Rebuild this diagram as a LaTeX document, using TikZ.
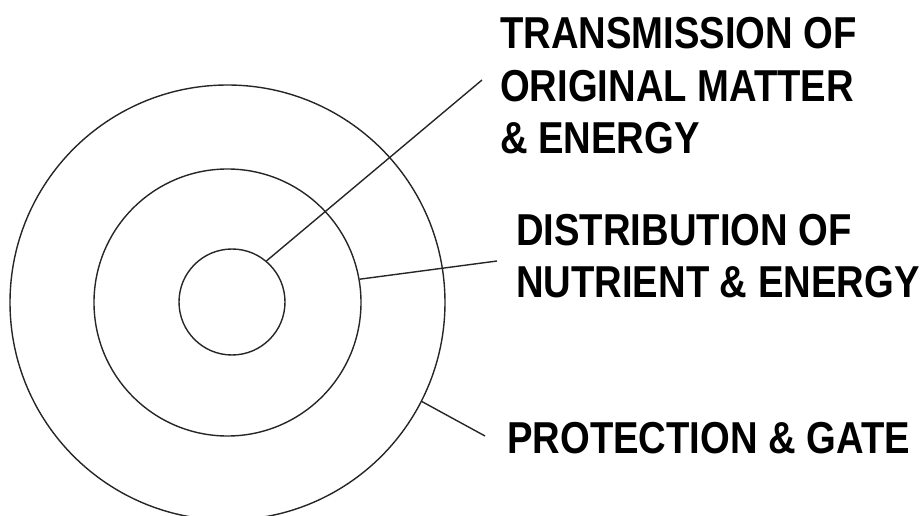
\documentclass[tikz,border=0pt]{standalone}
\usepackage{fontspec}
\setmainfont{Liberation Sans}[FakeStretch=0.855]
\begin{document}
\begin{tikzpicture}[x=1pt,y=-1pt,
  ring/.style={draw=black!85,circle,line width=1.4pt,inner sep=0pt},
  lead/.style={draw=black!85,line width=1.4pt},
  label/.style={anchor=base west,inner sep=0pt,align=left,font=\bfseries\fontsize{44.7}{52.5}\selectfont}]
\useasboundingbox (0,0) rectangle (922,516);
\node[ring,minimum size=435pt] (outer) at (227.5,302.5) {};
\node[ring,minimum size=267pt] (mid) at (227.5,302.5) {};
\node[ring,minimum size=106pt] (inner) at (232,302) {};
\coordinate (e1) at (482,80);
\coordinate (e2) at (497,261);
\coordinate (e3) at (485,436);
\draw[lead] (inner.50) -- (e1);
\draw[lead] (mid.10) -- (e2);
\draw[lead] (outer.-27.3) -- (e3);
\node[label] (t1) at (500,154) {TRANSMISSION OF\\ORIGINAL MATTER\\\& ENERGY};
\node[label] (t2) at (516,298) {DISTRIBUTION OF\\NUTRIENT \& ENERGY};
\node[label] (t3) at (507,453) {PROTECTION \& GATE};
\end{tikzpicture}
\end{document}
